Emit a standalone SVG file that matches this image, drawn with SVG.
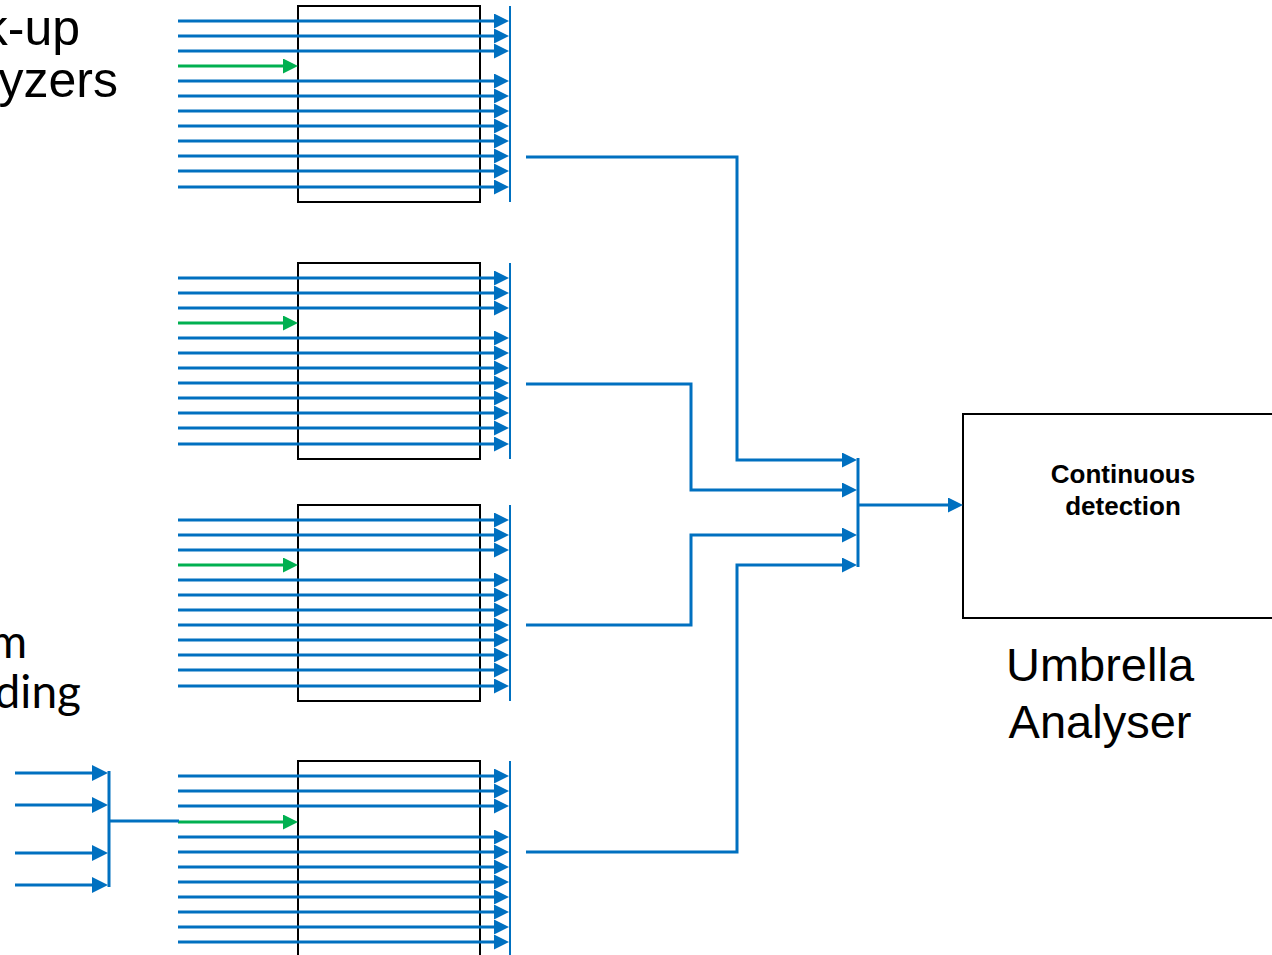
<svg xmlns="http://www.w3.org/2000/svg" width="1272" height="955" viewBox="0 0 1272 955">
<style>
.bl{stroke:#0070C0;stroke-width:3;fill:none}
.gr{stroke:#00B050;stroke-width:3;fill:none}
.bar{stroke:#0070C0;stroke-width:2;fill:none}
.box{fill:#fff;stroke:#000;stroke-width:2}
.a{marker-end:url(#ab)}
.g{marker-end:url(#ag)}
.big{font-family:"Liberation Sans",Arial,sans-serif;font-size:50px;fill:#000}
.ua{font-family:"Liberation Sans",Arial,sans-serif;font-size:47px;fill:#000}
.cal{font-family:Lato,"Noto Sans",sans-serif;font-size:46px;fill:#000}
.lbl{font-family:"Liberation Sans",Arial,sans-serif;font-size:26px;font-weight:bold;fill:#000}
</style>
<defs>
<marker id="ab" markerUnits="userSpaceOnUse" viewBox="0 0 15 15" markerWidth="15" markerHeight="15" refX="1" refY="7.5" orient="auto"><path d="M0,0 L15,7.5 L0,15 z" fill="#0070C0"/></marker>
<marker id="ag" markerUnits="userSpaceOnUse" viewBox="0 0 15 15" markerWidth="15" markerHeight="15" refX="1" refY="7.5" orient="auto"><path d="M0,0 L15,7.5 L0,15 z" fill="#00B050"/></marker>
<marker id="ab2" markerUnits="userSpaceOnUse" viewBox="0 0 16 16" markerWidth="16" markerHeight="16" refX="1" refY="8" orient="auto"><path d="M0,0 L16,8 L0,16 z" fill="#0070C0"/></marker>
</defs>

<g id="label-lookup">
<text class="big" x="80" y="45" text-anchor="end">k-up</text>
<text class="big" x="118" y="97" text-anchor="end">yzers</text>
</g>
<g id="label-stream">
<text class="cal" x="27" y="658" text-anchor="end">m</text>
<text class="cal" x="81" y="708" text-anchor="end">ding</text>
</g>

<g id="block1"><rect class="box" x="298" y="6" width="182" height="196"/></g>
<g id="block2"><rect class="box" x="298" y="263" width="182" height="196"/></g>
<g id="block3"><rect class="box" x="298" y="505" width="182" height="196"/></g>
<g id="block4"><rect class="box" x="298" y="761" width="182" height="196"/></g>

<g id="umbrella">
<rect class="box" x="963" y="414" width="320" height="204"/>
<text class="lbl" x="1123" y="483" text-anchor="middle">Continuous</text>
<text class="lbl" x="1123" y="515" text-anchor="middle">detection</text>
<text class="ua" x="1100" y="681" text-anchor="middle">Umbrella</text>
<text class="ua" x="1100" y="738" text-anchor="middle">Analyser</text>
</g>

<g id="connectors">
<!-- block 1 -->
<line class="bl a" x1="178" y1="21" x2="495" y2="21"/>
<line class="bl a" x1="178" y1="36" x2="495" y2="36"/>
<line class="bl a" x1="178" y1="51" x2="495" y2="51"/>
<line class="gr g" x1="178" y1="66" x2="284" y2="66"/>
<line class="bl a" x1="178" y1="81" x2="495" y2="81"/>
<line class="bl a" x1="178" y1="96" x2="495" y2="96"/>
<line class="bl a" x1="178" y1="111" x2="495" y2="111"/>
<line class="bl a" x1="178" y1="126" x2="495" y2="126"/>
<line class="bl a" x1="178" y1="141" x2="495" y2="141"/>
<line class="bl a" x1="178" y1="156" x2="495" y2="156"/>
<line class="bl a" x1="178" y1="171" x2="495" y2="171"/>
<line class="bl a" x1="178" y1="187" x2="495" y2="187"/>
<line class="bar" x1="510" y1="6" x2="510" y2="202"/>
<!-- block 2 -->
<line class="bl a" x1="178" y1="278" x2="495" y2="278"/>
<line class="bl a" x1="178" y1="293" x2="495" y2="293"/>
<line class="bl a" x1="178" y1="308" x2="495" y2="308"/>
<line class="gr g" x1="178" y1="323" x2="284" y2="323"/>
<line class="bl a" x1="178" y1="338" x2="495" y2="338"/>
<line class="bl a" x1="178" y1="353" x2="495" y2="353"/>
<line class="bl a" x1="178" y1="368" x2="495" y2="368"/>
<line class="bl a" x1="178" y1="383" x2="495" y2="383"/>
<line class="bl a" x1="178" y1="398" x2="495" y2="398"/>
<line class="bl a" x1="178" y1="413" x2="495" y2="413"/>
<line class="bl a" x1="178" y1="428" x2="495" y2="428"/>
<line class="bl a" x1="178" y1="444" x2="495" y2="444"/>
<line class="bar" x1="510" y1="263" x2="510" y2="459"/>
<!-- block 3 -->
<line class="bl a" x1="178" y1="520" x2="495" y2="520"/>
<line class="bl a" x1="178" y1="535" x2="495" y2="535"/>
<line class="bl a" x1="178" y1="550" x2="495" y2="550"/>
<line class="gr g" x1="178" y1="565" x2="284" y2="565"/>
<line class="bl a" x1="178" y1="580" x2="495" y2="580"/>
<line class="bl a" x1="178" y1="595" x2="495" y2="595"/>
<line class="bl a" x1="178" y1="610" x2="495" y2="610"/>
<line class="bl a" x1="178" y1="625" x2="495" y2="625"/>
<line class="bl a" x1="178" y1="640" x2="495" y2="640"/>
<line class="bl a" x1="178" y1="655" x2="495" y2="655"/>
<line class="bl a" x1="178" y1="670" x2="495" y2="670"/>
<line class="bl a" x1="178" y1="686" x2="495" y2="686"/>
<line class="bar" x1="510" y1="505" x2="510" y2="701"/>
<!-- block 4 -->
<line class="bl a" x1="178" y1="776" x2="495" y2="776"/>
<line class="bl a" x1="178" y1="791" x2="495" y2="791"/>
<line class="bl a" x1="178" y1="806" x2="495" y2="806"/>
<line class="gr g" x1="178" y1="822" x2="284" y2="822"/>
<line class="bl a" x1="178" y1="837" x2="495" y2="837"/>
<line class="bl a" x1="178" y1="852" x2="495" y2="852"/>
<line class="bl a" x1="178" y1="867" x2="495" y2="867"/>
<line class="bl a" x1="178" y1="882" x2="495" y2="882"/>
<line class="bl a" x1="178" y1="897" x2="495" y2="897"/>
<line class="bl a" x1="178" y1="912" x2="495" y2="912"/>
<line class="bl a" x1="178" y1="927" x2="495" y2="927"/>
<line class="bl a" x1="178" y1="942" x2="495" y2="942"/>
<line class="bar" x1="510" y1="761" x2="510" y2="957"/>
<!-- bottom-left merge -->
<line class="bl" x1="15" y1="773" x2="93" y2="773" marker-end="url(#ab2)"/>
<line class="bl" x1="15" y1="805" x2="93" y2="805" marker-end="url(#ab2)"/>
<line class="bl" x1="15" y1="853" x2="93" y2="853" marker-end="url(#ab2)"/>
<line class="bl" x1="15" y1="885" x2="93" y2="885" marker-end="url(#ab2)"/>
<path class="bl" d="M109,771V887M109,821H179"/>
<!-- outputs to umbrella -->
<path class="bl a" d="M526,157H737V460H843"/>
<path class="bl a" d="M526,384H691V490H843"/>
<path class="bl a" d="M526,625H691V535H843"/>
<path class="bl a" d="M526,852H737V565H843"/>
<path class="bl" d="M858,458V567"/>
<line class="bl a" x1="858" y1="505" x2="949" y2="505"/>
</g>
</svg>
